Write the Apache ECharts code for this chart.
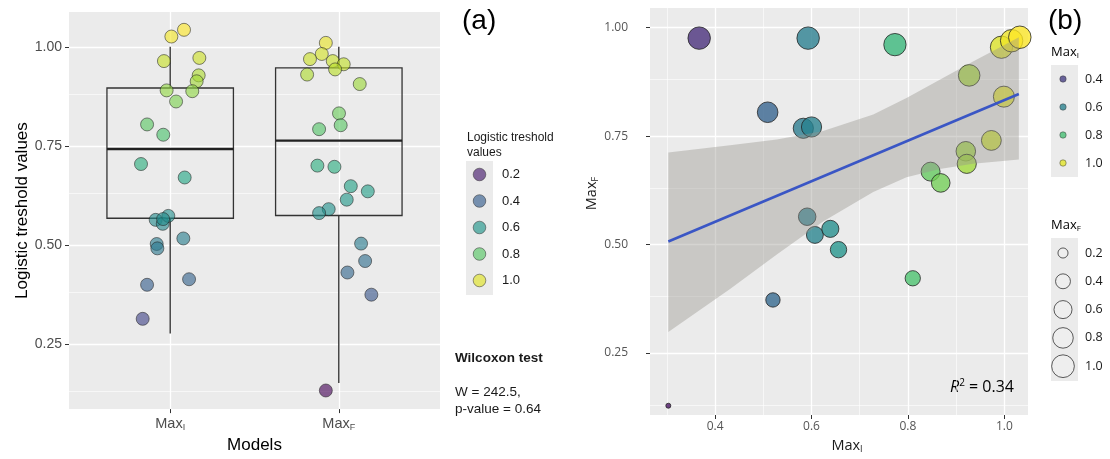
<!DOCTYPE html>
<html><head><meta charset="utf-8">
<script src="https://cdn.jsdelivr.net/npm/echarts@6/dist/echarts.min.js"></script>
<style>html,body{margin:0;padding:0;background:#fff}#c{width:1110px;height:459px}</style>
</head><body><div id="c"></div>
<script>
// ===== Panel (a): logistic threshold values per model (jittered points) =====
const modelPositions = [1, 2];
const modelLabels = ['I', 'F'];
const jitterPosI = [1.082, 1.007, 0.963, 1.173, 1.169, 1.157, 0.979, 1.131, 1.035, 0.863, 0.959, 0.827, 1.086, 0.914, 0.956, 0.989, 0.958, 1.078, 0.920, 0.924, 0.863, 1.112, 0.837];
const valuesI    = [1.043, 1.026, 0.964, 0.972, 0.928, 0.913, 0.890, 0.888, 0.862, 0.804, 0.778, 0.704, 0.670, 0.563, 0.553, 0.573, 0.565, 0.516, 0.502, 0.491, 0.399, 0.413, 0.313];
const jitterPosF = [1.923, 1.899, 1.829, 1.964, 2.029, 1.978, 1.812, 2.124, 2.001, 2.011, 1.883, 1.873, 1.974, 2.071, 2.172, 2.047, 1.940, 1.883, 2.132, 2.156, 2.051, 2.193, 1.923];
const valuesF    = [1.010, 0.982, 0.969, 0.964, 0.956, 0.943, 0.930, 0.906, 0.832, 0.802, 0.792, 0.700, 0.697, 0.648, 0.635, 0.614, 0.590, 0.580, 0.503, 0.459, 0.430, 0.374, 0.132];
// box plot statistics [Max_I, Max_F]
const boxLow    = [0.276, 0.151];
const boxQ1     = [0.567, 0.574];
const boxMedian = [0.742, 0.763];
const boxQ3     = [0.896, 0.947];
const boxHigh   = [1.000, 1.000];
const yTicksA = [0.25, 0.50, 0.75, 1.00];
const yMinorA = [0.125, 0.375, 0.625, 0.875];
const legendValuesA = [0.2, 0.4, 0.6, 0.8, 1.0];

// ===== Panel (b): Max_I vs Max_F =====
const maxI = [0.367, 0.593, 0.509, 0.583, 0.600, 0.773, 0.994, 1.015, 1.032, 0.927, 0.999, 0.973, 0.920, 0.922, 0.847, 0.868, 0.591, 0.607, 0.639, 0.656, 0.520, 0.303, 0.810];
const maxF = [0.976, 0.976, 0.805, 0.768, 0.771, 0.961, 0.955, 0.970, 0.978, 0.890, 0.841, 0.740, 0.715, 0.686, 0.668, 0.642, 0.564, 0.522, 0.536, 0.488, 0.372, 0.128, 0.422];
const fitX = [0.303, 1.030];
const fitY = [0.507, 0.847];
const bandX     = [0.303, 0.431, 0.528, 0.624, 0.728, 0.797, 0.866, 0.935, 0.991, 1.030];
const bandUpper = [0.712, 0.729, 0.742, 0.762, 0.800, 0.838, 0.880, 0.922, 0.955, 0.978];
const bandLower = [0.298, 0.397, 0.477, 0.553, 0.621, 0.655, 0.674, 0.686, 0.692, 0.696];
const xTicksB = [0.4, 0.6, 0.8, 1.0];
const xMinorB = [0.3, 0.5, 0.7, 0.9];
const yTicksB = [0.25, 0.50, 0.75, 1.00];
const yMinorB = [0.125, 0.375, 0.625, 0.875];
const legendMaxI = [0.4, 0.6, 0.8, 1.0];
const legendMaxF = [0.2, 0.4, 0.6, 0.8, 1.0];
const r2Text = '0.34';
const wilcoxW = '242.5';
const wilcoxP = '0.64';

// ===== styling helpers =====
const VIRIDIS = ['#440154','#482475','#414487','#355f8d','#2a788e','#21918c','#22a884','#44bf70','#7ad151','#bddf26','#fde725'];
function hex2rgb(h){return [parseInt(h.substr(1,2),16),parseInt(h.substr(3,2),16),parseInt(h.substr(5,2),16)];}
function viridis(t){
  t = Math.max(0, Math.min(1, t));
  const p = t * 10, i = Math.min(9, Math.floor(p)), f = p - i;
  const a = hex2rgb(VIRIDIS[i]), b = hex2rgb(VIRIDIS[i+1]);
  return 'rgb(' + a.map((v,k)=>Math.round(v + (b[k]-v)*f)).join(',') + ')';
}
const colMinA = 0.13, colMaxA = 1.04;
const colMinB = 0.27, colMaxB = 1.032;
const sizeMin = Math.min(...maxF), sizeMax = Math.max(...maxF);
function sizeOf(v){ const t = Math.max(0,(v - sizeMin)/(sizeMax - sizeMin)); return 5 + 17.5 * Math.sqrt(t); }

const SANS = '"Liberation Sans", Arial, sans-serif';
const OPEN = '"Open Sans", "Noto Sans", sans-serif';

function gridLines(majors, minors, axisKey){
  return majors.map(v => ({[axisKey]: v, lineStyle: {width: 1.3}}))
    .concat(minors.map(v => ({[axisKey]: v, lineStyle: {width: 0.6}})));
}
const markLineBase = {silent: true, z: 1, symbol: ['none','none'], label: {show: false}, animation: false,
  lineStyle: {color: '#ffffff', type: 'solid'}, emphasis: {disabled: true}};

const leftPoints = jitterPosI.map((x,i)=>[x, valuesI[i]]).concat(jitterPosF.map((x,i)=>[x, valuesF[i]]));
const boxData = modelPositions.map((x,i)=>[x, boxLow[i], boxQ1[i], boxMedian[i], boxQ3[i], boxHigh[i]]);
const rightPoints = maxI.map((x,i)=>[x, maxF[i]]);

const subRich = (size, col, font) => ({
  m: {fontSize: size, color: col, fontFamily: font},
  s: {fontSize: Math.round(size*0.62), color: col, fontFamily: font, padding: [Math.round(size*0.55),0,0,0]}
});

// ===== legends as graphic elements =====
const graphics = [];
graphics.push({type:'text', left: 462, top: 7, style:{text:'(a)', fontSize: 28, fontFamily: SANS, fill:'#000'}});
graphics.push({type:'text', left: 1048, top: 7, style:{text:'(b)', fontSize: 28, fontFamily: SANS, fill:'#000'}});
// legend (a)
graphics.push({type:'text', left: 467, top: 130, style:{text:'Logistic treshold\nvalues', fontSize: 12, lineHeight: 15, fontFamily: SANS, fill:'#1a1a1a'}});
graphics.push({type:'rect', shape:{x: 466, y: 161, width: 27, height: 134}, style:{fill:'#EBEBEB'}});
legendValuesA.forEach((v,i)=>{
  const y = 174.5 + i*26.5;
  graphics.push({type:'circle', shape:{cx: 479.5, cy: y, r: 6.3},
    style:{fill: viridis((v-colMinA)/(colMaxA-colMinA)), opacity: 0.65, stroke:'#333', lineWidth: 0.8}});
  graphics.push({type:'text', x: 502, y: y, style:{text: v.toFixed(1), fontSize: 13, fontFamily: SANS, fill:'#1a1a1a', verticalAlign:'middle'}});
});
graphics.push({type:'text', x: 455, y: 358, style:{text:'Wilcoxon test', fontSize: 13.5, fontWeight:'bold', fontFamily: SANS, fill:'#1a1a1a', verticalAlign:'middle'}});
graphics.push({type:'text', x: 455, y: 392, style:{text:'W = ' + wilcoxW + ',', fontSize: 13.5, fontFamily: SANS, fill:'#1a1a1a', verticalAlign:'middle'}});
graphics.push({type:'text', x: 455, y: 409, style:{text:'p-value = ' + wilcoxP, fontSize: 13.5, fontFamily: SANS, fill:'#1a1a1a', verticalAlign:'middle'}});
// legend (b) Max_I
graphics.push({type:'text', x: 1051, y: 52, style:{text:'{m|Max}{s|I}', rich: subRich(13, '#1a1a1a', OPEN), verticalAlign:'middle'}});
graphics.push({type:'rect', shape:{x: 1051, y: 65, width: 27, height: 112}, style:{fill:'#EBEBEB'}});
legendMaxI.forEach((v,i)=>{
  const y = 79 + i*28;
  graphics.push({type:'circle', shape:{cx: 1063, cy: y, r: 3.2},
    style:{fill: viridis((v-colMinB)/(colMaxB-colMinB)), opacity: 0.78, stroke:'#333', lineWidth: 0.6}});
  graphics.push({type:'text', x: 1085, y: y, style:{text: v.toFixed(1), fontSize: 12.5, fontFamily: OPEN, fill:'#1a1a1a', verticalAlign:'middle'}});
});
// legend (b) Max_F
graphics.push({type:'text', x: 1051, y: 225, style:{text:'{m|Max}{s|F}', rich: subRich(13, '#1a1a1a', OPEN), verticalAlign:'middle'}});
graphics.push({type:'rect', shape:{x: 1051, y: 238, width: 27, height: 143}, style:{fill:'#EBEBEB'}});
legendMaxF.forEach((v,i)=>{
  const y = 253 + i*28.3;
  graphics.push({type:'circle', shape:{cx: 1063, cy: y, r: sizeOf(v)/2},
    style:{fill: 'rgba(255,255,255,0.15)', stroke:'#333', lineWidth: 0.8}});
  graphics.push({type:'text', x: 1085, y: y, style:{text: v.toFixed(1), fontSize: 12.5, fontFamily: OPEN, fill:'#1a1a1a', verticalAlign:'middle'}});
});
// R^2 annotation
graphics.push({type:'text', right: 1110-1014, top: 378, style:{
  text:'{i|R}{p|2}{n| = ' + r2Text + '}',
  rich:{ i:{fontSize:16, fontStyle:'italic', fontFamily: OPEN, color:'#1a1a1a'},
         p:{fontSize:10, fontFamily: OPEN, color:'#1a1a1a', padding:[0,0,9,0]},
         n:{fontSize:16, fontFamily: OPEN, color:'#1a1a1a'} }}});

const option = {
  animation: false,
  backgroundColor: '#ffffff',
  grid: [
    {left: 69, top: 12, width: 371, height: 407, show: true, backgroundColor: '#EBEBEB', borderWidth: 0},
    {left: 650, top: 8, width: 378, height: 413, show: true, backgroundColor: '#EBEBEB', borderWidth: 0}
  ],
  xAxis: [
    {type: 'value', gridIndex: 0, min: 0.4, max: 2.6, splitLine: {show: false},
     axisLine: {show: false},
     axisTick: {show: true, length: 4, lineStyle: {color: '#333'}, customValues: modelPositions},
     axisLabel: {customValues: modelPositions, margin: 6,
       formatter: v => '{m|Max}{s|' + modelLabels[Math.round(v)-1] + '}', rich: subRich(14.5, '#4D4D4D', SANS)},
     name: 'Models', nameLocation: 'middle', nameGap: 23,
     nameTextStyle: {fontSize: 17, fontFamily: SANS, color: '#000'}},
    {type: 'value', gridIndex: 1, min: 0.265, max: 1.049, splitLine: {show: false},
     axisLine: {show: false},
     axisTick: {show: true, length: 4, lineStyle: {color: '#333'}, customValues: xTicksB},
     axisLabel: {customValues: xTicksB, margin: 6, color: '#555', fontSize: 12, fontFamily: OPEN,
       formatter: v => v.toFixed(1)},
     name: '{m|Max}{s|I}', nameLocation: 'middle', nameGap: 22,
     nameTextStyle: {rich: subRich(14.5, '#1a1a1a', OPEN), padding: [0,0,0,16]}}
  ],
  yAxis: [
    {type: 'value', gridIndex: 0, min: 0.085, max: 1.088, splitLine: {show: false},
     axisLine: {show: false},
     axisTick: {show: true, length: 4, lineStyle: {color: '#333'}, customValues: yTicksA},
     axisLabel: {customValues: yTicksA, margin: 7, color: '#4D4D4D', fontSize: 14, fontFamily: SANS,
       formatter: v => v.toFixed(2)},
     name: 'Logistic treshold values', nameLocation: 'middle', nameGap: 35,
     nameTextStyle: {fontSize: 17, fontFamily: SANS, color: '#000'}},
    {type: 'value', gridIndex: 1, min: 0.1066, max: 1.0455, splitLine: {show: false},
     axisLine: {show: false},
     axisTick: {show: true, length: 4, lineStyle: {color: '#333'}, customValues: yTicksB},
     axisLabel: {customValues: yTicksB, margin: 22, color: '#555', fontSize: 12, fontFamily: OPEN,
       formatter: v => v.toFixed(2)},
     name: '{m|Max}{s|F}', nameLocation: 'middle', nameGap: 45,
     nameTextStyle: {rich: subRich(14.5, '#1a1a1a', OPEN), padding: [0,0,0,36]}}
  ],
  visualMap: [
    {type: 'continuous', show: false, seriesIndex: 2, dimension: 1, min: colMinA, max: colMaxA, inRange: {color: VIRIDIS}},
    {type: 'continuous', show: false, seriesIndex: 6, dimension: 0, min: colMinB, max: colMaxB, inRange: {color: VIRIDIS}}
  ],
  series: [
    {type: 'line', xAxisIndex: 0, yAxisIndex: 0, data: [], z: 1,
     markLine: Object.assign({}, markLineBase, {data: gridLines(yTicksA, yMinorA, 'yAxis').concat(modelPositions.map(v=>({xAxis: v, lineStyle:{width:1.3}})))})},
    {type: 'custom', xAxisIndex: 0, yAxisIndex: 0, z: 3, data: boxData, encode: {x: 0, y: [1,2,3,4,5]},
     renderItem: function(params, api){
       const x = api.value(0), lo = api.value(1), q1 = api.value(2), med = api.value(3), q3 = api.value(4), hi = api.value(5);
       const hw = 0.375;
       const tl = api.coord([x - hw, q3]), br = api.coord([x + hw, q1]);
       const cLo = api.coord([x, lo]), cQ1 = api.coord([x, q1]), cQ3 = api.coord([x, q3]), cHi = api.coord([x, hi]);
       const mL = api.coord([x - hw, med]), mR = api.coord([x + hw, med]);
       const cx = cLo[0];
       return {type: 'group', children: [
         {type: 'polyline', shape: {points: [[cx, cLo[1]], [cx, cQ1[1]]]}, style: {stroke: '#1a1a1a', lineWidth: 1.2, fill: null}},
         {type: 'polyline', shape: {points: [[cx, cQ3[1]], [cx, cHi[1]]]}, style: {stroke: '#1a1a1a', lineWidth: 1.2, fill: null}},
         {type: 'rect', shape: {x: tl[0], y: tl[1], width: br[0]-tl[0], height: br[1]-tl[1]}, style: {stroke: '#333', lineWidth: 1.3, fill: 'rgba(0,0,0,0)'}},
         {type: 'polyline', shape: {points: [[mL[0], mL[1]], [mR[0], mR[1]]]}, style: {stroke: '#222', lineWidth: 2.3, fill: null}}
       ]};
     }},
    {type: 'scatter', xAxisIndex: 0, yAxisIndex: 0, z: 4, data: leftPoints, symbolSize: 13,
     itemStyle: {opacity: 0.62, borderColor: '#222', borderWidth: 0.9}},
    {type: 'line', xAxisIndex: 1, yAxisIndex: 1, data: [], z: 1,
     markLine: Object.assign({}, markLineBase, {data: gridLines(yTicksB, yMinorB, 'yAxis').concat(gridLines(xTicksB, xMinorB, 'xAxis'))})},
    {type: 'custom', xAxisIndex: 1, yAxisIndex: 1, z: 5, data: [[bandX[0], bandLower[0]]], encode: {x: 0, y: 1},
     renderItem: function(params, api){
       const pts = bandX.map((x,i)=>api.coord([x, bandUpper[i]]));
       for (let i = bandX.length - 1; i >= 0; i--) pts.push(api.coord([bandX[i], bandLower[i]]));
       return {type: 'polygon', shape: {points: pts}, style: {fill: 'rgba(150,147,140,0.40)', stroke: null}};
     }},
    {type: 'line', xAxisIndex: 1, yAxisIndex: 1, z: 6, data: fitX.map((x,i)=>[x, fitY[i]]), symbol: 'none',
     lineStyle: {color: '#3A56C5', width: 2.6}},
    {type: 'scatter', xAxisIndex: 1, yAxisIndex: 1, z: 4, data: rightPoints,
     symbolSize: v => sizeOf(v[1]),
     itemStyle: {opacity: 0.78, borderColor: '#222', borderWidth: 1}}
  ],
  graphic: graphics
};
const chart = echarts.init(document.getElementById('c'), null, {renderer: 'canvas'});
chart.setOption(option);
</script></body></html>
